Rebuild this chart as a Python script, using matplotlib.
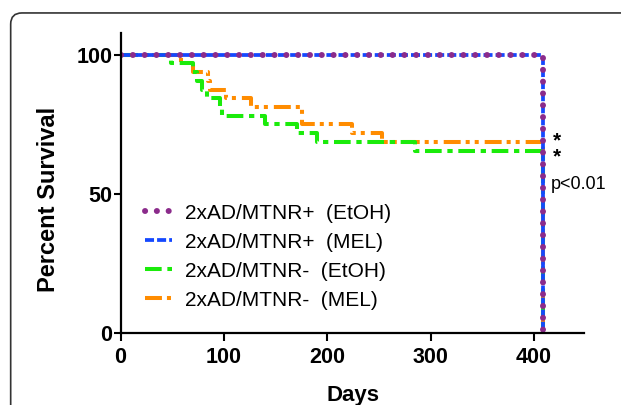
import numpy as np
import matplotlib
matplotlib.use('Agg')
import matplotlib.pyplot as plt
from matplotlib.patches import FancyBboxPatch

plt.rcParams['font.family'] = ['Liberation Sans', 'DejaVu Sans']
plt.rcParams['lines.scale_dashes'] = False

# survival curves (days, percent survival), Kaplan-Meier style steps
days_pos_etoh = [0, 409, 409]
surv_pos_etoh = [100, 100, 0]
days_pos_mel = [0, 409, 409]
surv_pos_mel = [100, 100, 0]
days_neg_etoh = [0, 49, 70, 74, 79, 84, 96, 98, 140, 171, 190, 285, 409]
surv_neg_etoh = [100, 96.9, 93.75, 90.6, 87.5, 84.4, 81.25, 78.1, 75, 71.9, 68.75, 65.6, 0]
days_neg_mel = [0, 58, 70, 85, 87, 102, 126, 176, 224, 253, 409]
surv_neg_mel = [100, 96.9, 93.75, 90.6, 87.5, 84.4, 81.25, 75, 71.9, 68.75, 0]

labels = ['2xAD/MTNR+  (EtOH)', '2xAD/MTNR+  (MEL)', '2xAD/MTNR-  (EtOH)', '2xAD/MTNR-  (MEL)']
x_ticks = [0, 100, 200, 300, 400]
y_ticks = [0, 50, 100]

fig = plt.figure(figsize=(6.21, 4.05), dpi=100)
ax = fig.add_axes([0.1942, 0.177, 0.7469, 0.7427])

# outer rounded frame
frame = FancyBboxPatch((0.0172, -0.1), 1.1, 0.968 + 0.1,
                       boxstyle='round,pad=0,rounding_size=0.018',
                       mutation_aspect=621 / 405, transform=fig.transFigure,
                       facecolor='none', edgecolor='#333333', linewidth=1.2)
fig.patches.append(frame)

orange = '#FF8C00'
green = '#1BEB0B'
blue = '#1448FF'
purple = '#8B2B8B'

l4, = ax.step(days_neg_mel, surv_neg_mel, where='post', color=orange, lw=2.9,
              linestyle=(0, (12.2, 3.6, 2.9, 3.6, 2.9, 4.3)))
l3, = ax.step(days_neg_etoh, surv_neg_etoh, where='post', color=green, lw=2.9,
              linestyle=(0, (12, 4.1, 3.8, 4.1)))
l2, = ax.step(days_pos_mel, surv_pos_mel, where='post', color=blue, lw=2.7,
              linestyle=(0, (6.5, 2.2)))
l1, = ax.step(days_pos_etoh, surv_pos_etoh, where='post', color=purple, lw=4.3,
              linestyle=(0, (0.1, 8.4)), dash_capstyle='round')

ax.set_xlim(0, 449)
ax.set_ylim(0, 108)
ax.set_xticks(x_ticks)
ax.set_yticks(y_ticks)
for s in ['top', 'right']:
    ax.spines[s].set_visible(False)
for s in ['left', 'bottom']:
    ax.spines[s].set_linewidth(1.6)
ax.tick_params(axis='x', length=6, width=1.5, labelsize=15.5, pad=4)
ax.tick_params(axis='y', length=5, width=1.5, labelsize=15.5, pad=1)
for lab in ax.get_xticklabels() + ax.get_yticklabels():
    lab.set_fontweight('bold')

ax.set_xlabel('Days', fontsize=16, fontweight='bold')
ax.set_ylabel('Percent Survival', fontsize=17, fontweight='bold')
ax.xaxis.set_label_coords(0.5, -0.172)
ax.yaxis.set_label_coords(-0.131, 0.4465)

ax.legend([l1, l2, l3, l4], labels, loc='upper left', bbox_to_anchor=(0.0526, 0.431),
          frameon=False, fontsize=15, handlelength=1.3, handletextpad=0.6,
          labelspacing=0.48, borderpad=0, borderaxespad=0)

ax.text(422.6, 66.3, '*\n*', fontsize=15, fontweight='bold', ha='center', va='center',
        linespacing=0.8)
ax.text(416, 53.3, 'p<0.01', fontsize=13, ha='left', va='center')

fig.savefig('out.png', dpi=100)
